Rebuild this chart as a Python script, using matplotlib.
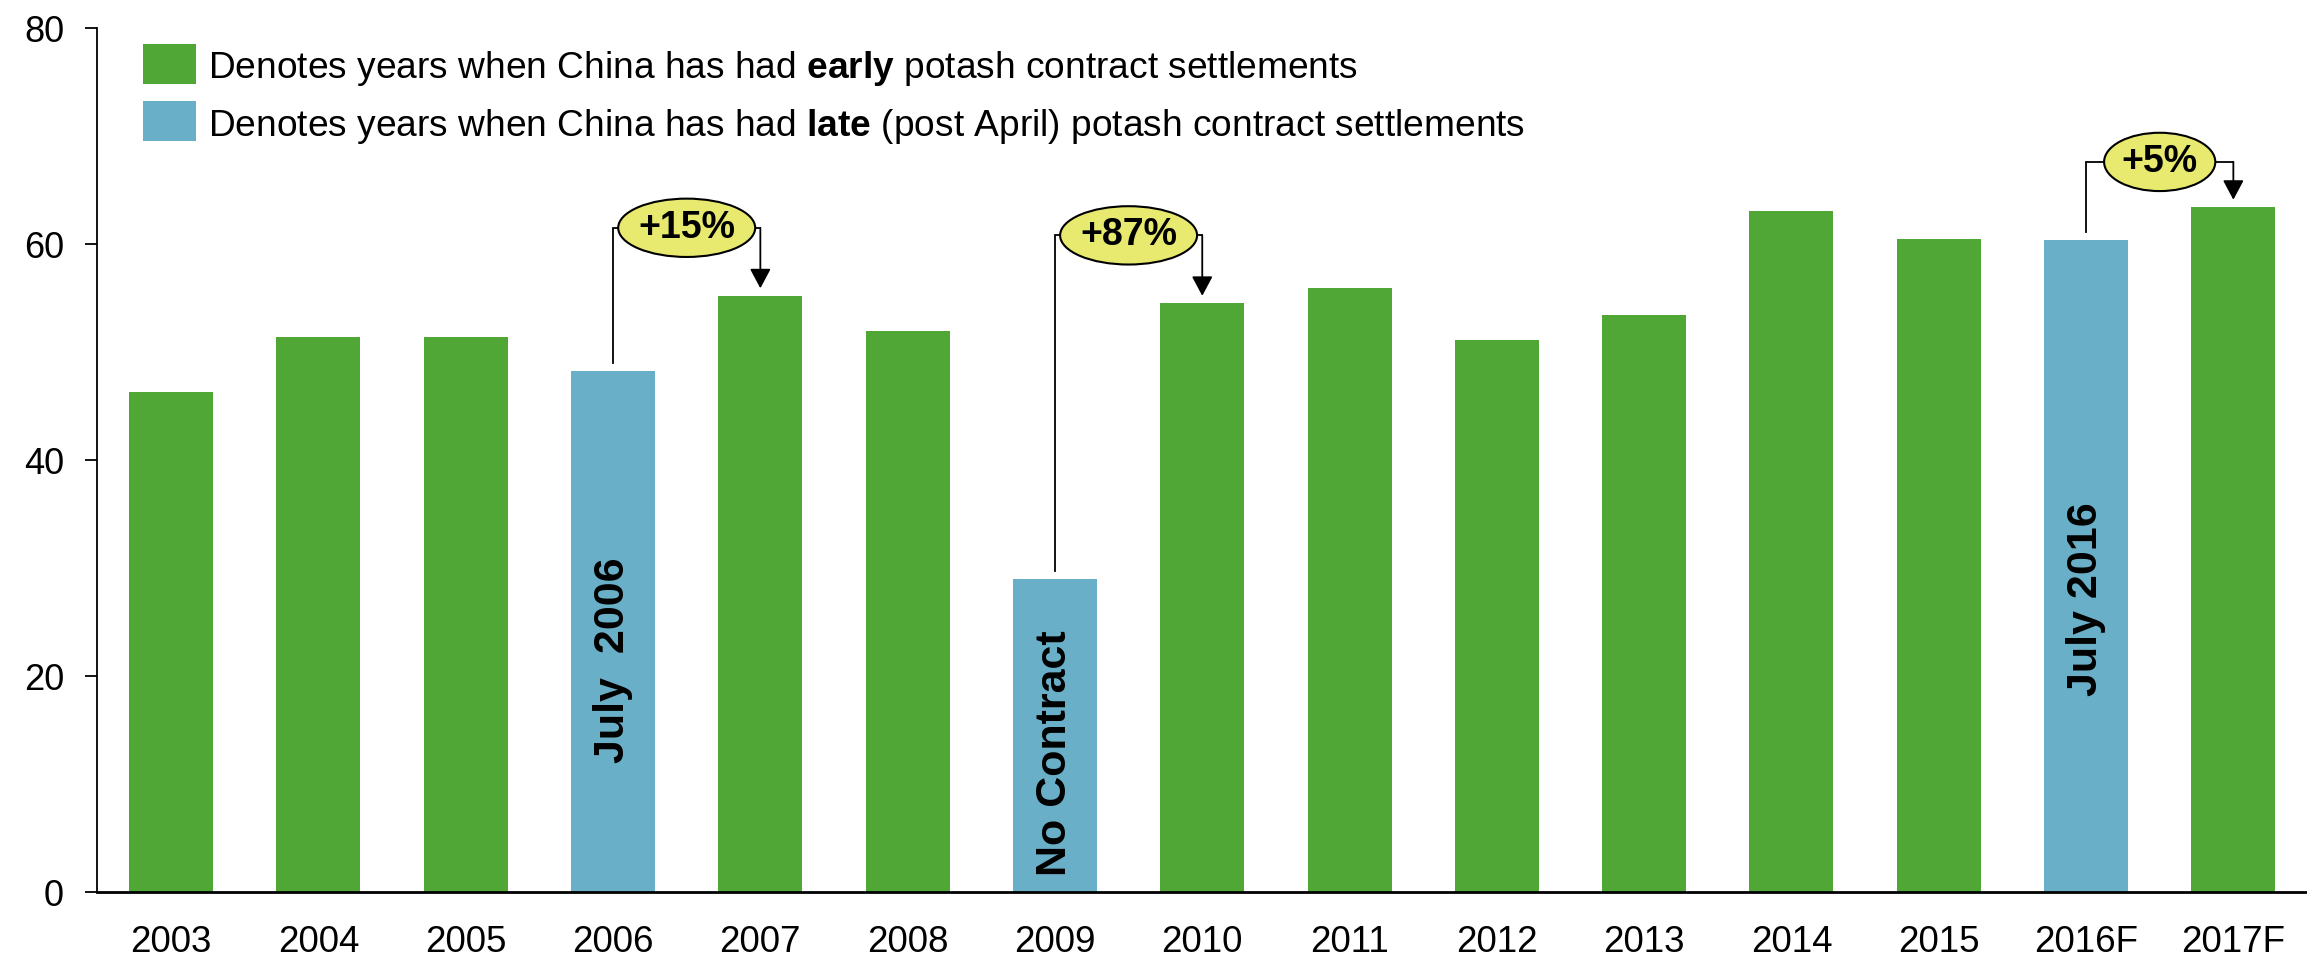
import matplotlib
matplotlib.use("Agg")
import matplotlib.pyplot as plt
from matplotlib.patches import Ellipse, Rectangle

plt.rcParams['font.family'] = ['Liberation Sans', 'DejaVu Sans']
plt.rcParams['mathtext.fontset'] = 'custom'
plt.rcParams['mathtext.rm'] = 'Liberation Sans'
plt.rcParams['mathtext.bf'] = 'Liberation Sans:bold'

# ---- data ----
categories = ["2003", "2004", "2005", "2006", "2007", "2008", "2009", "2010",
              "2011", "2012", "2013", "2014", "2015", "2016F", "2017F"]
values = [46.3, 51.4, 51.4, 48.2, 55.2, 51.9, 29.0, 54.5,
          55.9, 51.1, 53.4, 63.1, 60.5, 60.4, 63.4]
late = [False, False, False, True, False, False, True, False,
        False, False, False, False, False, True, False]

bar_labels = {"2006": "July  2006", "2009": "No Contract", "2016F": "July 2016"}
bar_label_y = {"2006": 21.5, "2009": 12.85, "2016F": 27.1}

# change callouts: (from category, to category, label, bracket level)
callout_from = ["2006", "2009", "2016F"]
callout_to = ["2007", "2010", "2017F"]
callout_text = ["+15%", "+87%", "+5%"]
callout_level = [61.5, 60.8, 67.6]

legend_labels = [r"Denotes years when China has had $\mathbf{early}$ potash contract settlements",
                 r"Denotes years when China has had $\mathbf{late}$ (post April) potash contract settlements"]

GREEN = "#50A736"
BLUE = "#6AAFC8"
YELLOW = "#E8E96F"

W, H = 2307, 956
fig = plt.figure(figsize=(W / 100, H / 100), dpi=100)
ax = fig.add_axes([97.5 / W, (H - 892) / H, (W - 97.5) / W, (892 - 28) / H])

x = list(range(len(categories)))
colors = [BLUE if l else GREEN for l in late]
ax.bar(x, values, width=0.57, color=colors, zorder=2)

ax.set_xlim(-0.5, len(categories) - 0.5)
ax.set_ylim(0, 80)
ax.set_yticks([0, 20, 40, 60, 80])
ax.set_xticks(x)
ax.set_xticklabels(categories)
ax.tick_params(axis='x', length=0, pad=23.5, labelsize=26.5)
ax.tick_params(axis='y', length=8.6, width=1.3, pad=15.5, labelsize=26, direction='out')
for s in ['top', 'right']:
    ax.spines[s].set_visible(False)
ax.spines['left'].set_linewidth(1.3)
ax.spines['bottom'].set_linewidth(2.0)

# in-bar rotated labels
for cat, txt in bar_labels.items():
    i = categories.index(cat)
    ax.text(i, bar_label_y[cat], txt, rotation=90, ha='center', va='center',
            fontsize=31, fontweight='bold', color='black', zorder=3)

# callouts
for f, t, txt, lvl in zip(callout_from, callout_to, callout_text, callout_level):
    i0 = categories.index(f)
    i1 = categories.index(t)
    y0 = values[i0] + 0.75
    y1 = values[i1] + 0.7
    ax.plot([i0, i0, i1], [y0, lvl, lvl], color='black', lw=1.3, zorder=3,
            solid_joinstyle='miter')
    ax.annotate('', xy=(i1, y1), xytext=(i1, lvl),
                arrowprops=dict(arrowstyle='-|>,head_length=0.6,head_width=0.32',
                                mutation_scale=20, color='black', lw=1.3,
                                shrinkA=0, shrinkB=0), zorder=3)
    ew = 0.93 if len(txt) > 3 else 0.755
    ell = Ellipse(((i0 + i1) / 2, lvl), ew, 5.4, facecolor=YELLOW,
                  edgecolor='black', lw=1.5, zorder=4)
    ax.add_patch(ell)
    ax.text((i0 + i1) / 2, lvl, txt, ha='center', va='center', fontsize=27,
            fontweight='bold', zorder=5)

# legend (manual)
legend_colors = [GREEN, BLUE]
rows_y = [64, 121]
for c, lab, ry in zip(legend_colors, legend_labels, rows_y):
    fig.patches.append(Rectangle((143 / W, 1 - (ry + 20) / H), 53 / W, 40 / H,
                                 transform=fig.transFigure, facecolor=c,
                                 edgecolor='none', figure=fig))
    fig.text(208 / W, 1 - ry / H, lab, ha='left', va='center_baseline', fontsize=26.7)

fig.savefig("out.png", dpi=100)
